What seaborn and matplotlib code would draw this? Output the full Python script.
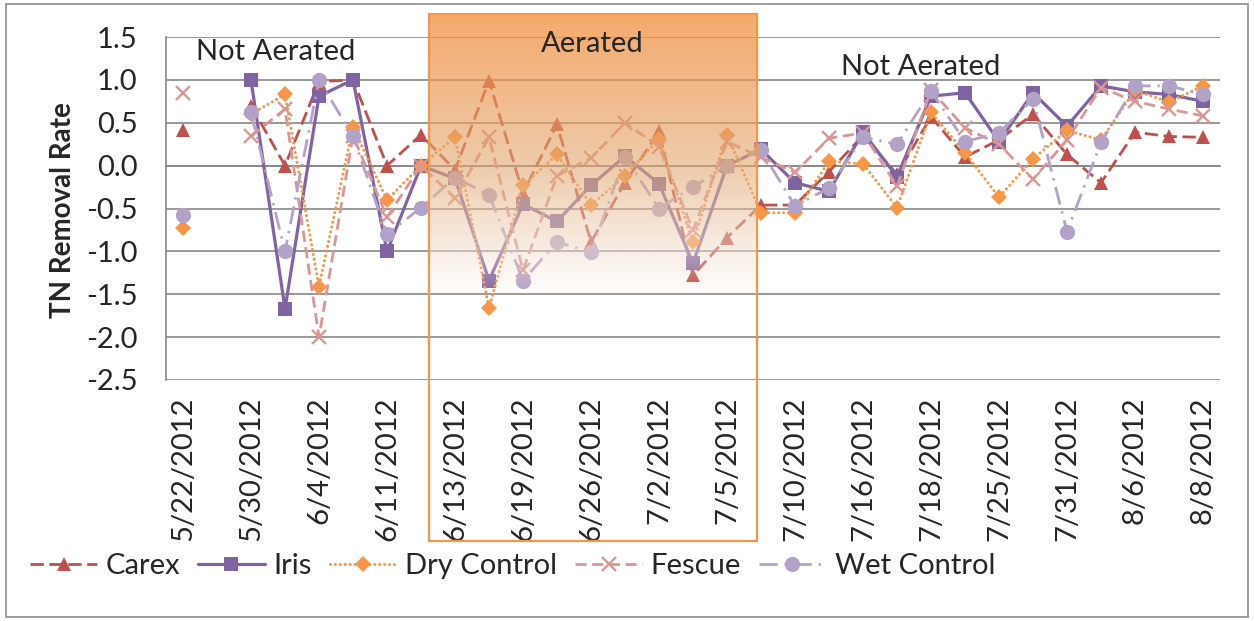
import numpy as np
import pandas as pd
import matplotlib
matplotlib.use("Agg")
import matplotlib.pyplot as plt
import seaborn as sns
from matplotlib.patches import Rectangle
from matplotlib.ticker import FormatStrFormatter

nan = np.nan

# Sampling dates (every other one is labelled on the axis)
dates = ["5/22/2012", "5/25/2012", "5/30/2012", "6/1/2012", "6/4/2012", "6/6/2012",
         "6/11/2012", "6/12/2012", "6/13/2012", "6/15/2012", "6/19/2012", "6/22/2012",
         "6/26/2012", "6/29/2012", "7/2/2012", "7/3/2012", "7/5/2012", "7/9/2012",
         "7/10/2012", "7/12/2012", "7/16/2012", "7/17/2012", "7/18/2012", "7/20/2012",
         "7/25/2012", "7/27/2012", "7/31/2012", "8/2/2012", "8/6/2012", "8/7/2012",
         "8/8/2012"]

carex = [0.42, nan, 0.70, 0.00, 0.98, 1.00, 0.00, 0.36, -0.05, 0.99, -0.32, 0.48,
         -0.89, -0.20, 0.40, -1.28, -0.84, -0.46, -0.46, -0.07, 0.35, -0.10, 0.57,
         0.10, 0.30, 0.60, 0.13, -0.20, 0.39, 0.34, 0.33]
iris = [nan, nan, 1.00, -1.67, 0.81, 1.00, -1.00, 0.00, -0.15, -1.34, -0.45, -0.65,
        -0.23, 0.11, -0.21, -1.14, 0.00, 0.19, -0.20, -0.30, 0.39, -0.13, 0.81,
        0.85, 0.28, 0.85, 0.46, 0.93, 0.86, 0.83, 0.75]
dry_control = [-0.73, nan, 0.60, 0.83, -1.41, 0.45, -0.40, 0.00, 0.33, -1.66, -0.23,
               0.13, -0.46, -0.12, 0.31, -0.89, 0.36, -0.55, -0.55, 0.05, 0.02, -0.49,
               0.62, 0.15, -0.37, 0.08, 0.41, 0.30, 0.88, 0.74, 0.93]
fescue = [0.85, nan, 0.34, 0.66, -2.00, 0.35, -0.60, 0.00, -0.38, 0.33, -1.22, -0.12,
          0.09, 0.50, 0.22, -0.75, 0.28, 0.10, -0.08, 0.32, 0.38, -0.24, 0.88, 0.44,
          0.25, -0.16, 0.30, 0.91, 0.75, 0.66, 0.58]
wet_control = [-0.57, nan, 0.62, -1.00, 1.00, 0.34, -0.80, -0.49, -0.14, -0.34, -1.34,
               -0.89, -1.01, 0.10, -0.50, -0.25, 0.00, 0.18, -0.47, -0.26, 0.33, 0.25,
               0.87, 0.28, 0.38, 0.78, -0.77, 0.27, 0.93, 0.93, 0.83]

series_names = ["Carex", "Iris", "Dry Control", "Fescue", "Wet Control"]
series_values = [carex, iris, dry_control, fescue, wet_control]

# Long-form table; a missing sample breaks the line into separate segments
rows = []
for name, vals in zip(series_names, series_values):
    seg = 0
    for i, v in enumerate(vals):
        if np.isnan(v):
            seg += 1
            continue
        rows.append({"series": name, "pos": i, "value": v, "seg": seg})
df = pd.DataFrame(rows)

styles = {
    "Carex": dict(color="#C0504D", linestyle=(0, (4.8, 2.0)), linewidth=2.0,
                  marker="^", markersize=10.5, markeredgecolor="#C0504D", markeredgewidth=0),
    "Iris": dict(color="#8064A2", linestyle="-", linewidth=2.3,
                 marker="s", markersize=10.5, markeredgecolor="#8064A2", markeredgewidth=0),
    "Dry Control": dict(color="#F79646", linestyle=(0, (0.01, 1.6)), linewidth=2.2,
                        dash_capstyle="round",
                        marker="D", markersize=8, markeredgecolor="#F79646", markeredgewidth=0),
    "Fescue": dict(color="#D99694", linestyle=(0, (4.0, 2.0)), linewidth=2.0,
                   marker="x", markersize=9.5, markeredgecolor="#D99694", markeredgewidth=1.7),
    "Wet Control": dict(color="#B3A2C7", linestyle=(0, (6.5, 2.5, 0.8, 2.5)), linewidth=2.0,
                        marker="o", markersize=11, markeredgecolor="#B3A2C7", markeredgewidth=0),
}

sns.set_style("white")
plt.rcParams["font.family"] = ["Lato", "DejaVu Sans"]
plt.rcParams["axes.unicode_minus"] = False

FS = 21
W, H = 1254, 621
fig = plt.figure(figsize=(W / 100, H / 100), dpi=100)
ax = fig.add_axes([166 / W, 1 - 380 / H, (1220 - 166) / W, (380 - 37) / H], zorder=0)

for k, name in enumerate(series_names):
    sub = df[df["series"] == name]
    sns.lineplot(data=sub, x="pos", y="value", units="seg", estimator=None,
                 ax=ax, label=name, zorder=3 + k, legend=False, **styles[name])

gray = "#878787"
ax.set_xlim(-0.5, 30.5)
ax.set_ylim(-2.5, 1.5)
ax.set_xlabel("")
ax.set_ylabel("")

# horizontal axis crosses at zero; its labels sit below the plot area
ax.spines["bottom"].set_position(("data", 0))
ax.spines["bottom"].set_color(gray)
ax.spines["bottom"].set_linewidth(1.2)
ax.set_xticks(range(0, len(dates), 2))
ax.set_xticklabels(dates[::2], rotation=90, fontsize=FS)
ax.set_xticks(np.arange(-0.5, len(dates), 1), minor=True)
ax.tick_params(axis="x", which="major", length=0, pad=166)
ax.tick_params(axis="x", which="minor", length=6, width=1.2, color=gray, direction="out")

ax.set_yticks(np.arange(-2.5, 1.51, 0.5))
ax.yaxis.set_major_formatter(FormatStrFormatter("%.1f"))
ax.tick_params(axis="y", length=5, width=1.2, color=gray, direction="out", pad=15.5,
               labelsize=FS)
ax.spines["left"].set_color(gray)
ax.spines["left"].set_linewidth(1.2)
for s in ("top", "right"):
    ax.spines[s].set_visible(False)
ax.set_axisbelow(True)
ax.yaxis.grid(True, color=gray, linewidth=1.2)
ax.xaxis.grid(False)

fig.text(63 / W, 1 - 210 / H, "TN Removal Rate", rotation=90, ha="center", va="center",
         fontsize=20, fontweight="bold")

# Shaded box marking the aerated period
ov = fig.add_axes([429 / W, 1 - 541 / H, (757 - 429) / W, (541 - 14) / H], zorder=1)
ys = np.linspace(14, 541, 500)
stop_y = [14, 166, 250, 298, 541]
tgt_r = [245, 238, 248, 255, 255]
tgt_g = [170, 203, 238, 255, 255]
tgt_b = [108, 170, 230, 255, 255]
stop_a = [0.75, 0.6, 0.5, 0.0, 0.0]
a = np.interp(ys, stop_y, stop_a)
grad = np.zeros((len(ys), 1, 4))
safe = np.where(a > 0, a, 1.0)
for ch, tgt in enumerate((tgt_r, tgt_g, tgt_b)):
    t = np.interp(ys, stop_y, tgt)
    c = (t - (1 - a) * 255) / safe
    grad[:, 0, ch] = np.clip(c, 0, 255) / 255
grad[:, 0, 3] = a
ov.imshow(grad, aspect="auto", extent=(0, 1, 0, 1), interpolation="bilinear")
ov.set_xlim(0, 1)
ov.set_ylim(0, 1)
ov.set_axis_off()
ov.add_patch(Rectangle((0, 0), 1, 1, transform=ov.transAxes, fill=False,
                       edgecolor="#F79646", linewidth=1.6, clip_on=False))

fig.text(276 / W, 1 - 52 / H, "Not Aerated", ha="center", va="center", fontsize=FS, zorder=5)
fig.text(592 / W, 1 - 44 / H, "Aerated", ha="center", va="center", fontsize=FS, zorder=5)
fig.text(921 / W, 1 - 67 / H, "Not Aerated", ha="center", va="center", fontsize=FS, zorder=5)

# Legend: one entry per series
handles, labels = ax.get_legend_handles_labels()
first = {}
for h, l in zip(handles, labels):
    first.setdefault(l, h)
fig.legend([first[n] for n in series_names], series_names, loc="center left",
           bbox_to_anchor=(30 / W, 1 - 566 / H), ncol=5, frameon=False, fontsize=FS,
           handlelength=2.3, handletextpad=0.3, columnspacing=0.6,
           borderaxespad=0, borderpad=0)

fig.add_artist(Rectangle((6 / W, 4 / H), (1248 - 6) / W, (617 - 4) / H,
                         transform=fig.transFigure, fill=False, edgecolor="#8c8c8c",
                         linewidth=1.2))

fig.savefig("out.png", dpi=100)
